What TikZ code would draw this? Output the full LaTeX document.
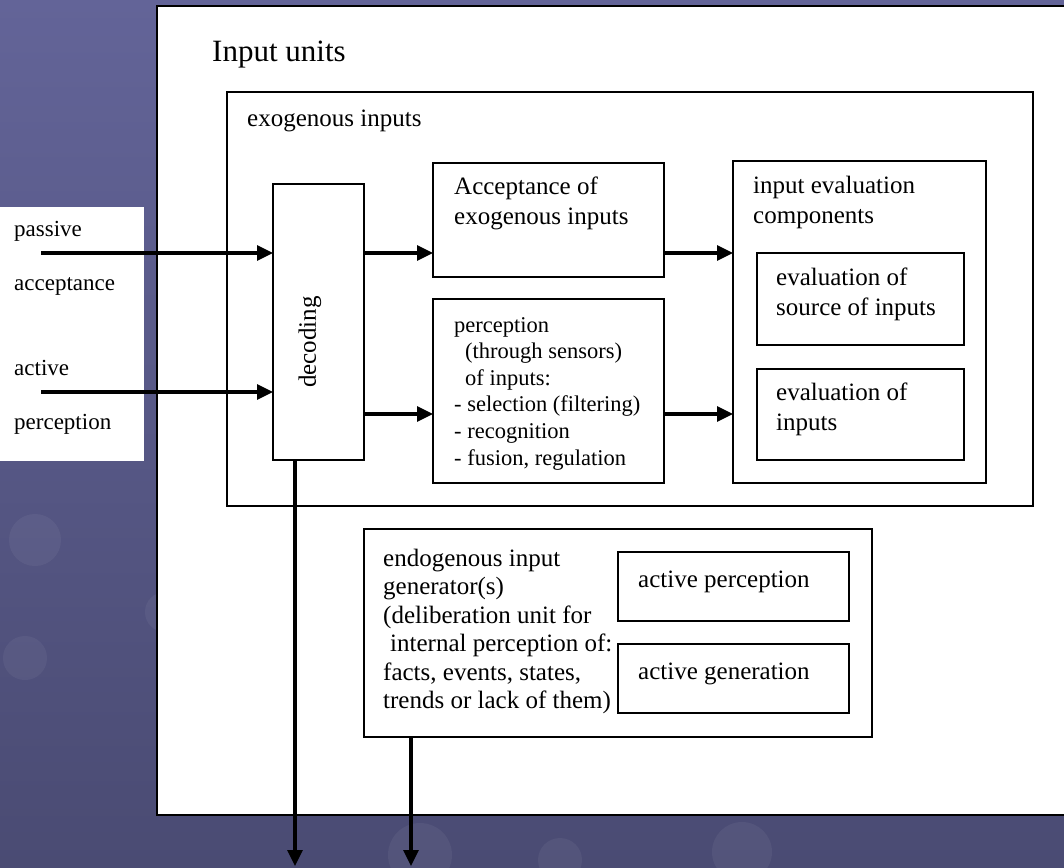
\documentclass[tikz,border=0pt]{standalone}
\usepackage{fontspec}
\setmainfont{Liberation Serif}
\usetikzlibrary{arrows.meta,calc}
\definecolor{slidetop}{RGB}{99,100,152}
\definecolor{slidebot}{RGB}{74,75,115}
\newcommand{\fstitle}{\fontsize{31}{36}\selectfont}
\newcommand{\fsbox}{\fontsize{25}{29.5}\selectfont}
\newcommand{\fsperc}{\fontsize{22.5}{26.6}\selectfont}
\newcommand{\fsside}{\fontsize{23}{27}\selectfont}
\newcommand{\fsendo}{\fontsize{25}{28.4}\selectfont}

\begin{document}
\begin{tikzpicture}[x=1pt,y=-1pt,
  box/.style={draw,line width=1.8pt,fill=white,inner sep=0pt,outer sep=0pt,anchor=north west},
  txt/.style={inner sep=0pt,align=left,anchor=north west,font=\fsbox},
  lbl/.style={inner sep=0pt,anchor=base west,font=\fsbox},
  arr/.style={line width=3.2pt,-{Triangle[length=16pt,width=15pt]}}]
\useasboundingbox (0,0) rectangle (1064,867);
\fill[top color=slidetop,bottom color=slidebot] (0,0) rectangle (1064,867);
\foreach \cx/\cy/\r in {35/540/26,25/658/22,165/612/20,420/855/32,742/852/30,560/860/22}
  \fill[white,opacity=0.05] (\cx,\cy) circle (\r);

\node[box,minimum width=930pt,minimum height=809pt] (units) at (157,6) {};
\node[lbl,font=\fstitle] (unitstxt) at (212,62) {Input units};

\node[box,draw=none,minimum width=150pt,minimum height=254pt] (side) at (-6,207) {};
\node[lbl,font=\fsside] (passtxt) at (14,236) {passive};
\node[lbl,font=\fsside] (acctxt) at (14,290) {acceptance};
\node[lbl,font=\fsside] (acttxt) at (14,375) {active};
\node[lbl,font=\fsside] (perctxt) at (14,429) {perception};

\node[box,minimum width=806pt,minimum height=414pt] (exo) at (227,92) {};
\node[lbl] (exotxt) at (247,126) {exogenous inputs};

\node[box,minimum width=91pt,minimum height=276pt] (dec) at (273,184) {};
\node[font=\fsbox,rotate=90,inner sep=0pt] (dectxt) at (310,342) {decoding};

\node[box,minimum width=231pt,minimum height=114pt] (accept) at (433,163) {};
\node[txt] (accepttxt) at (454,177) {Acceptance of\\exogenous inputs};

\node[box,minimum width=231pt,minimum height=184pt] (percep) at (433,299) {};
\node[txt,font=\fsperc] (perceptxt) at (454,317) {perception\\\hspace*{11pt}(through sensors)\\\hspace*{11pt}of inputs:\\- selection (filtering)\\- recognition\\- fusion, regulation};

\node[box,minimum width=253pt,minimum height=322pt] (evalc) at (733,161) {};
\node[txt] (evalctxt) at (753,176) {input evaluation\\components};
\node[box,minimum width=207pt,minimum height=92pt] (evalsrc) at (757,253) {};
\node[txt] (evalsrctxt) at (776,268) {evaluation of\\source of inputs};
\node[box,minimum width=207pt,minimum height=91pt] (evalin) at (757,369) {};
\node[txt] (evalintxt) at (776,383) {evaluation of\\inputs};

\node[box,minimum width=508pt,minimum height=208pt] (endo) at (364,529) {};
\node[txt,font=\fsendo] (endotxt) at (383,549) {endogenous input\\generator(s)\\(deliberation unit for\\\hspace*{7pt}internal perception of:\\facts, events, states,\\trends or lack of them)};
\node[box,minimum width=231pt,minimum height=69pt] (actperc) at (618,552) {};
\node[lbl] (actperctxt) at (638,587) {active perception};
\node[box,minimum width=231pt,minimum height=69pt] (actgen) at (618,644) {};
\node[lbl] (actgentxt) at (638,679) {active generation};

\coordinate (pa) at (41,253);
\coordinate (pb) at (41,392);
\coordinate (pc) at (0,414);
\coordinate (outa) at (295,866);
\coordinate (outb) at (411,866);
\draw[arr] (pa) -- (pa -| dec.west);
\draw[arr] (pb) -- (pb -| dec.west);
\draw[arr] (dec.east |- pa) -- (accept.west |- pa);
\draw[arr] (dec.east |- pc) -- (percep.west |- pc);
\draw[arr] (accept.east |- pa) -- (evalc.west |- pa);
\draw[arr] (percep.east |- pc) -- (evalc.west |- pc);
\draw[arr] (dec.south -| outa) -- (outa);
\draw[arr] (endo.south -| outb) -- (outb);
\end{tikzpicture}
\end{document}
